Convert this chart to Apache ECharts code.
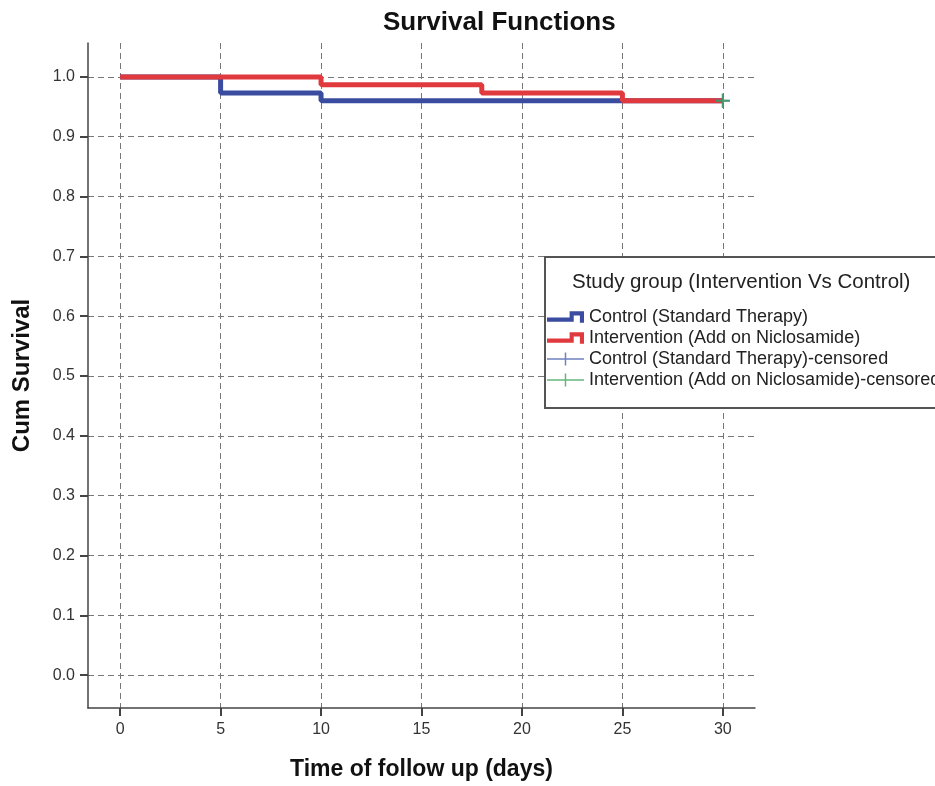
<!DOCTYPE html>
<html>
<head>
<meta charset="utf-8">
<script src="https://cdn.jsdelivr.net/npm/echarts@6/dist/echarts.min.js"></script>
<style>
  html, body { margin: 0; padding: 0; background: #fff; }
  #chart { width: 935px; height: 786px; }
</style>
</head>
<body>
<div id="chart"></div>
<script>
// survival data
var controlTimes = [0, 5, 10, 30];
var controlSurv = [1.0, 0.9733, 0.96, 0.96];
var interventionTimes = [0, 10, 18, 25, 30];
var interventionSurv = [1.0, 0.9867, 0.9733, 0.96, 0.96];
var controlCensored = [[30, 0.96]];
var interventionCensored = [[30, 0.96]];

var xTicks = [0, 5, 10, 15, 20, 25, 30];
var yTicks = [0, 0.1, 0.2, 0.3, 0.4, 0.5, 0.6, 0.7, 0.8, 0.9, 1.0];

var seriesNames = [
  'Control (Standard Therapy)',
  'Intervention (Add on Niclosamide)',
  'Control (Standard Therapy)-censored',
  'Intervention (Add on Niclosamide)-censored'
];

function zip(xs, ys) {
  return xs.map(function (x, i) { return [x, ys[i]]; });
}

var stepIcon = 'path://M0,8 L22,8 L22,2 L36,2 L36,13 L32,13 L32,6 L26,6 L26,12 L0,12 Z';
var crossIcon = 'path://M0,6.2 L19.2,6.2 L19.2,0 L20.8,0 L20.8,6.2 L40,6.2 L40,7.8 L20.8,7.8 L20.8,14 L19.2,14 L19.2,7.8 L0,7.8 Z';
var plusSymbol = 'path://M6,0 L8,0 L8,6 L14,6 L14,8 L8,8 L8,14 L6,14 L6,8 L0,8 L0,6 L6,6 Z';

var font = 'Liberation Sans, Arial, sans-serif';

var chart = echarts.init(document.getElementById('chart'), null, { renderer: 'canvas' });

chart.setOption({
  animation: false,
  backgroundColor: '#fff',
  title: {
    text: 'Survival Functions',
    left: 378,
    top: 5,
    textStyle: { fontFamily: font, fontSize: 26, fontWeight: 'bold', color: '#111' }
  },
  grid: { left: 88, top: 43, right: 180, bottom: 76, containLabel: false },
  xAxis: {
    type: 'value',
    min: -1.6,
    max: 31.6,
    name: 'Time of follow up (days)',
    nameLocation: 'middle',
    nameGap: 50,
    nameTextStyle: { fontFamily: font, fontSize: 23, fontWeight: 'bold', color: '#111' },
    axisLine: { show: true, onZero: false, lineStyle: { color: '#444', width: 1.5 } },
    axisTick: { show: true, length: 8, customValues: xTicks, lineStyle: { color: '#444', width: 2 } },
    axisLabel: { customValues: xTicks, margin: 14, fontFamily: font, fontSize: 16, color: '#333' },
    splitLine: { show: true, lineStyle: { color: '#777', type: [6, 4], width: 1 } }
  },
  yAxis: {
    type: 'value',
    min: -0.055,
    max: 1.0567,
    name: 'Cum Survival',
    nameLocation: 'middle',
    nameGap: 54,
    nameTextStyle: { fontFamily: font, fontSize: 24, fontWeight: 'bold', color: '#111' },
    axisLine: { show: true, onZero: false, lineStyle: { color: '#444', width: 1.5 } },
    axisTick: { show: true, length: 8, customValues: yTicks, lineStyle: { color: '#444', width: 2 } },
    axisLabel: {
      customValues: yTicks,
      margin: 13,
      fontFamily: font,
      fontSize: 16,
      color: '#333',
      formatter: function (v) { return v.toFixed(1); }
    },
    splitLine: { show: true, lineStyle: { color: '#777', type: [6, 4], width: 1 } }
  },
  graphic: [
    {
      type: 'rect',
      z: 3,
      shape: { x: 545, y: 257, width: 400, height: 151 },
      style: { fill: '#fff', stroke: '#555', lineWidth: 2 }
    },
    {
      type: 'text',
      z: 5,
      left: 572,
      top: 272,
      style: {
        text: 'Study group (Intervention Vs Control)',
        fontFamily: font,
        fontSize: 20.5,
        fill: '#222'
      }
    }
  ],
  legend: {
    z: 6,
    orient: 'vertical',
    left: 547,
    top: 308,
    padding: 0,
    itemGap: 3,
    itemWidth: 37,
    itemHeight: 14,
    selectedMode: false,
    textStyle: { fontFamily: font, fontSize: 18, color: '#222' },
    data: [
      { name: seriesNames[0], icon: stepIcon },
      { name: seriesNames[1], icon: stepIcon },
      { name: seriesNames[2], icon: crossIcon },
      { name: seriesNames[3], icon: crossIcon }
    ]
  },
  series: [
    {
      name: seriesNames[0],
      type: 'line',
      step: 'end',
      showSymbol: false,
      z: 2,
      color: '#3a4c9f',
      lineStyle: { color: '#3a4c9f', width: 5 },
      data: zip(controlTimes, controlSurv)
    },
    {
      name: seriesNames[1],
      type: 'line',
      step: 'end',
      showSymbol: false,
      z: 2,
      color: '#e13a3e',
      lineStyle: { color: '#e13a3e', width: 5 },
      data: zip(interventionTimes, interventionSurv)
    },
    {
      name: seriesNames[2],
      type: 'scatter',
      z: 3,
      symbol: plusSymbol,
      symbolSize: 14,
      color: '#4a62b0',
      itemStyle: { color: '#4a62b0' },
      data: controlCensored
    },
    {
      name: seriesNames[3],
      type: 'scatter',
      z: 3,
      symbol: plusSymbol,
      symbolSize: 14,
      color: '#3ea55a',
      itemStyle: { color: '#3ea55a' },
      data: interventionCensored
    }
  ]
});
</script>
</body>
</html>
